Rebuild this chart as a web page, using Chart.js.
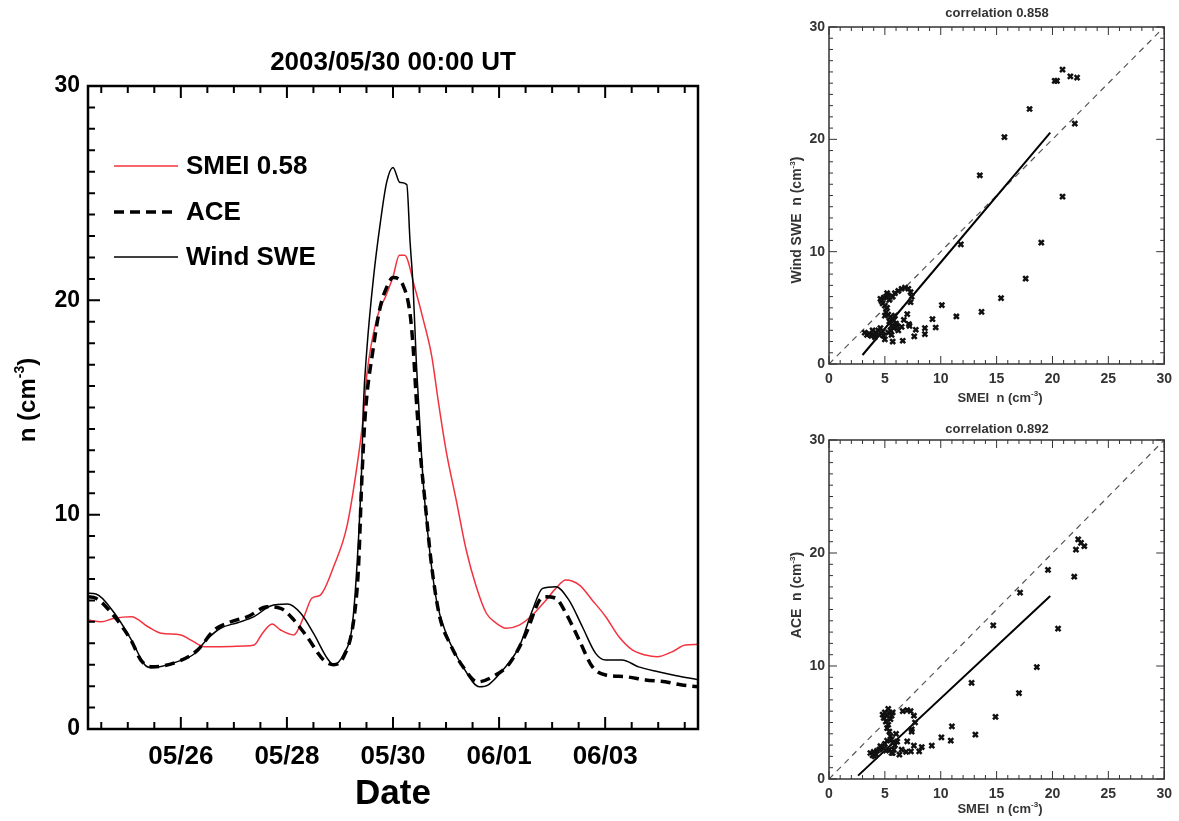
<!DOCTYPE html>
<html>
<head>
<meta charset="utf-8">
<title>SMEI density comparison 2003/05/30</title>
<script src="https://cdn.jsdelivr.net/npm/chart.js@4.4.1/dist/chart.umd.min.js"></script>
<style>
    html, body { margin: 0; padding: 0; background: #ffffff; }
    .box { position: absolute; }
</style>
</head>
<body>
<div class="box" style="left:0;top:0;width:720px;height:821px"><canvas id="timeChart" width="720" height="821"></canvas></div>
<div class="box" style="left:780px;top:0;width:399px;height:410px"><canvas id="windChart" width="399" height="410"></canvas></div>
<div class="box" style="left:780px;top:410px;width:399px;height:411px"><canvas id="aceChart" width="399" height="411"></canvas></div>
<script>
// ---- data: days relative to 2003/05/30 00:00 UT, density in cm^-3 ----
const smeiDays = [-5.75, -5.5, -5.25, -4.93, -4.62, -4.37, -4.0, -3.81, -3.56, -3.25, -2.81, -2.62, -2.46, -2.28, -2.12, -1.87, -1.68, -1.53, -1.37, -1.12, -0.87, -0.68, -0.56, -0.49, -0.31, -0.12, 0, 0.12, 0.22, 0.41, 0.57, 0.73, 0.85, 1.0, 1.19, 1.38, 1.57, 1.76, 1.95, 2.13, 2.38, 2.63, 2.88, 3.07, 3.26, 3.51, 3.76, 4.01, 4.26, 4.51, 4.76, 4.98, 5.26, 5.51, 5.75];
const smeiDens = [5.09, 5.0, 5.17, 5.24, 4.77, 4.47, 4.39, 4.15, 3.84, 3.84, 3.87, 3.92, 4.47, 4.9, 4.62, 4.39, 5.24, 6.1, 6.25, 7.57, 9.44, 12.24, 14.57, 16.6, 19.1, 20.3, 21.1, 22.1, 22.1, 20.6, 19.1, 17.4, 15.35, 13.0, 10.7, 8.35, 6.64, 5.4, 4.93, 4.7, 4.85, 5.32, 6.0, 6.56, 6.95, 6.72, 6.0, 5.24, 4.3, 3.69, 3.45, 3.37, 3.6, 3.92, 3.95];

const aceDays = [-5.75, -5.6, -5.25, -4.93, -4.75, -4.53, -4.0, -3.68, -3.37, -3.06, -2.74, -2.37, -2.12, -1.87, -1.62, -1.31, -1.12, -0.93, -0.74, -0.65, -0.59, -0.525, -0.37, -0.24, -0.12, 0, 0.19, 0.32, 0.38, 0.44, 0.51, 0.6, 0.73, 0.88, 1.07, 1.32, 1.6, 1.88, 2.2, 2.51, 2.76, 2.88, 3.07, 3.26, 3.51, 3.76, 4.01, 4.38, 4.76, 5.13, 5.45, 5.75];
const aceDens = [6.17, 6.1, 5.24, 4.1, 3.2, 2.9, 3.2, 3.69, 4.62, 5.0, 5.24, 5.7, 5.63, 5.09, 4.3, 3.22, 3.0, 3.37, 5.09, 7.57, 11.5, 14.6, 17.8, 19.7, 20.6, 21.06, 20.7, 19.4, 17.8, 15.35, 13.0, 10.7, 7.57, 5.24, 4.0, 2.9, 2.2, 2.44, 3.07, 4.47, 6.0, 6.17, 6.1, 5.4, 4.15, 2.9, 2.52, 2.44, 2.29, 2.2, 2.05, 1.97];

const windDays = [-5.75, -5.6, -5.25, -4.93, -4.68, -4.56, -4.0, -3.75, -3.5, -3.25, -2.93, -2.62, -2.31, -1.99, -1.74, -1.5, -1.24, -1.12, -0.93, -0.77, -0.68, -0.59, -0.56, -0.49, -0.37, -0.24, -0.12, 0, 0.13, 0.26, 0.32, 0.38, 0.44, 0.49, 0.57, 0.69, 0.82, 1.0, 1.32, 1.63, 1.79, 2.07, 2.38, 2.63, 2.82, 3.07, 3.32, 3.57, 3.82, 4.01, 4.32, 4.63, 5.0, 5.32, 5.75];
const windDens = [6.33, 6.3, 5.4, 4.15, 3.0, 2.86, 3.2, 3.5, 4.2, 4.7, 4.96, 5.24, 5.74, 5.83, 5.4, 4.47, 3.3, 3.0, 3.5, 4.8, 7.6, 12.2, 15.0, 17.8, 21.0, 23.6, 25.5, 26.2, 25.5, 25.4, 22.8, 20.6, 17.1, 14.9, 11.5, 8.35, 6.0, 4.47, 2.9, 1.97, 2.05, 2.75, 3.84, 5.55, 6.56, 6.64, 6.0, 4.77, 3.53, 3.22, 3.22, 2.9, 2.67, 2.5, 2.3];

const seriesNames = ['SMEI 0.58', 'ACE', 'Wind SWE'];
const dateTickDays = [-4, -2, 0, 2, 4];
const dateTickLabels = ['05/26', '05/28', '05/30', '06/01', '06/03'];
const densTicks = [0, 10, 20, 30];
const smeiTicks = [0, 5, 10, 15, 20, 25, 30];

// scatter: SMEI vs Wind SWE
const windSmei = [20.9, 20.2, 20.4, 21.6, 22.2, 17.95, 22.0, 15.7, 13.5, 20.9, 11.8, 19.0, 17.6, 15.4, 10.1, 13.65, 11.4, 9.26, 9.55, 8.58, 7.77, 8.58, 7.63, 6.6, 5.7, 7.0, 6.7, 7.15,
    4.6, 4.7, 4.8, 4.9, 5.0, 5.1, 5.2, 5.3, 5.4, 5.2, 5.1, 5.0, 5.3, 5.5, 5.4, 5.6, 5.5, 5.3, 5.6, 5.8, 5.9, 6.0, 5.8, 5.7, 5.9, 6.2, 6.5, 6.8, 7.1, 7.3, 7.4, 7.3,
    3.2, 3.4, 3.6, 3.8, 4.0, 4.2, 4.4, 4.1, 3.9, 4.6, 4.8, 4.9, 5.0, 4.5, 6.2, 6.5, 6.1, 7.2];
const windSwe = [26.2, 25.2, 25.2, 25.6, 25.5, 22.7, 21.4, 20.2, 16.8, 14.9, 10.65, 10.8, 7.6, 5.86, 5.24, 4.64, 4.23, 4.0, 3.25, 3.2, 3.05, 2.66, 2.46, 2.07, 2.0, 4.44, 3.93, 3.55,
    5.8, 5.6, 5.4, 5.9, 5.2, 6.0, 6.3, 6.1, 5.7, 5.0, 4.6, 4.3, 4.4, 4.2, 3.8, 3.4, 3.0, 2.8, 2.6, 3.9, 4.3, 3.6, 3.2, 6.0, 6.3, 6.5, 6.7, 6.8, 6.7, 6.4, 6.0, 5.5,
    2.8, 2.6, 2.7, 2.5, 2.6, 2.8, 3.0, 2.4, 3.0, 3.2, 2.9, 2.5, 2.2, 2.6, 3.0, 3.3, 3.4, 3.4];
const windFitX = [3.0, 19.8];
const windFitY = [0.8, 20.6];

// scatter: SMEI vs ACE
const aceSmei = [22.3, 22.55, 22.85, 22.1, 21.95, 19.6, 17.1, 14.7, 20.5, 18.6, 12.76, 17.0, 14.9, 11.0, 13.1, 10.06, 10.9, 9.2, 8.3, 8.07, 7.33, 7.6, 7.0, 7.4, 6.3, 5.7,
    4.8, 4.9, 5.0, 5.1, 5.2, 5.3, 5.4, 5.5, 5.6, 5.7, 5.3, 5.2, 5.4, 5.5, 5.6, 5.7, 5.9, 5.2, 5.0, 4.9, 5.1, 5.4, 5.6, 5.8, 6.1, 6.0, 6.6, 7.0, 7.3, 7.6, 7.7, 7.4,
    3.7, 3.9, 4.0, 4.2, 4.3, 4.5, 4.1, 4.6, 6.5, 6.9];
const aceAce = [21.2, 20.9, 20.6, 20.3, 17.9, 18.5, 16.5, 13.6, 13.3, 9.9, 8.5, 7.6, 5.5, 4.66, 3.92, 3.69, 3.39, 2.95, 2.83, 2.45, 2.45, 2.95, 3.33, 4.2, 2.15, 2.3,
    5.7, 5.4, 5.9, 5.1, 5.6, 6.2, 5.8, 5.3, 5.6, 5.9, 4.8, 4.5, 4.2, 3.8, 3.5, 3.2, 3.0, 3.4, 3.1, 2.7, 2.5, 2.6, 2.3, 2.6, 3.3, 4.0, 6.0, 6.1, 6.0, 5.6, 5.0, 4.4,
    2.3, 2.1, 2.4, 2.2, 2.5, 2.6, 2.0, 2.9, 2.6, 2.4];
const aceFitX = [2.6, 19.8];
const aceFitY = [0.3, 16.2];

const diagonal = [0, 30];

const FONT = '"Liberation Sans", Arial, sans-serif';
const toPoints = (xs, ys) => xs.map((v, i) => ({ x: v, y: ys[i] }));
const fixedTicks = values => scale => { scale.ticks = values.map(v => ({ value: v })); };

// text with an optional superscript part, centred on (x, baseline y); rotated reads upward
function drawRichText(ctx, parts, x, y, size, rotate, color) {
    const fontFor = sup => 'bold ' + (sup ? Math.round(size * 0.6) : size) + 'px ' + FONT;
    ctx.save();
    ctx.translate(x, y);
    if (rotate) ctx.rotate(-Math.PI / 2);
    ctx.fillStyle = color;
    ctx.textBaseline = 'alphabetic';
    ctx.textAlign = 'left';
    let w = 0;
    parts.forEach(p => { ctx.font = fontFor(p[1]); w += ctx.measureText(p[0]).width; });
    let cx = -w / 2;
    parts.forEach(p => {
        ctx.font = fontFor(p[1]);
        ctx.fillText(p[0], cx, p[1] ? -size * 0.45 : 0);
        cx += ctx.measureText(p[0]).width;
    });
    ctx.restore();
}

// inward tick marks and a closed frame, IDL style
const boxTicks = {
    id: 'boxTicks',
    afterDatasetsDraw(chart, args, o) {
        const { ctx, chartArea: a, scales: { x, y } } = chart;
        const isMajor = (v, m) => Math.abs(v / m - Math.round(v / m)) < 1e-6;
        ctx.save();
        ctx.strokeStyle = o.color;
        ctx.lineWidth = o.tickWidth;
        ctx.beginPath();
        for (let i = Math.ceil(x.min / o.xStep); i * o.xStep <= x.max + 1e-9; i++) {
            const v = i * o.xStep;
            const px = x.getPixelForValue(v);
            const len = isMajor(v, o.xMajor) ? o.major : o.minor;
            ctx.moveTo(px, a.bottom); ctx.lineTo(px, a.bottom - len);
            if (o.top) { ctx.moveTo(px, a.top); ctx.lineTo(px, a.top + len); }
        }
        for (let i = Math.ceil(y.min / o.yStep); i * o.yStep <= y.max + 1e-9; i++) {
            const v = i * o.yStep;
            const py = y.getPixelForValue(v);
            const len = isMajor(v, o.yMajor) ? o.major : o.minor;
            ctx.moveTo(a.left, py); ctx.lineTo(a.left + len, py);
            if (o.right) { ctx.moveTo(a.right, py); ctx.lineTo(a.right - len, py); }
        }
        ctx.stroke();
        ctx.lineWidth = o.border;
        ctx.strokeRect(a.left, a.top, a.right - a.left, a.bottom - a.top);
        ctx.restore();
    }
};

// free text: titles and axis names
const textItems = {
    id: 'textItems',
    afterDraw(chart, args, o) {
        o.items.forEach(t => drawRichText(chart.ctx, t.parts, t.x, t.y, t.size, t.rotate, t.color || o.color));
    }
};

// legend inside the plot area
const insideLegend = {
    id: 'insideLegend',
    afterDraw(chart, args, o) {
        const ctx = chart.ctx;
        ctx.save();
        chart.data.datasets.forEach((ds, i) => {
            const yy = o.rows[i];
            ctx.strokeStyle = ds.borderColor;
            ctx.lineWidth = ds.borderWidth;
            ctx.setLineDash(ds.borderDash || []);
            ctx.beginPath();
            ctx.moveTo(o.x0, yy);
            ctx.lineTo(o.x1, yy);
            ctx.stroke();
            ctx.setLineDash([]);
            ctx.fillStyle = '#000';
            ctx.font = 'bold ' + o.size + 'px ' + FONT;
            ctx.textBaseline = 'middle';
            ctx.fillText(ds.label, o.textX, yy + 1);
        });
        ctx.restore();
    }
};

Chart.defaults.font.family = FONT;
Chart.defaults.animation = false;

// ---- time series ----
new Chart(document.getElementById('timeChart'), {
    type: 'line',
    data: {
        datasets: [
            { label: seriesNames[0], data: toPoints(smeiDays, smeiDens), borderColor: '#f2333f', borderWidth: 1.5, order: 3 },
            { label: seriesNames[1], data: toPoints(aceDays, aceDens), borderColor: '#000000', borderWidth: 3.5, borderDash: [10, 6], order: 2 },
            { label: seriesNames[2], data: toPoints(windDays, windDens), borderColor: '#000000', borderWidth: 1.5, order: 1 }
        ]
    },
    options: {
        responsive: false,
        devicePixelRatio: 1,
        elements: { point: { radius: 0 }, line: { cubicInterpolationMode: 'monotone' } },
        layout: { padding: { top: 86, right: 22, left: 0, bottom: 0 } },
        scales: {
            x: {
                type: 'linear', min: -5.75, max: 5.75,
                grid: { display: false, drawTicks: false }, border: { display: false },
                afterBuildTicks: fixedTicks(dateTickDays),
                ticks: {
                    autoSkip: false, maxRotation: 0, padding: 12,
                    color: '#000', font: { size: 26, weight: 'bold' },
                    callback: v => { const i = dateTickDays.indexOf(v); return i >= 0 ? dateTickLabels[i] : ''; }
                },
                afterFit: s => { s.height = 92; }
            },
            y: {
                min: 0, max: 30,
                grid: { display: false, drawTicks: false }, border: { display: false },
                afterBuildTicks: fixedTicks(densTicks),
                ticks: { padding: 8, color: '#000', font: { size: 23, weight: 'bold' } },
                afterFit: s => { s.width = 88; }
            }
        },
        plugins: {
            legend: { display: false },
            tooltip: { enabled: false },
            boxTicks: { color: '#000', tickWidth: 2, border: 2.5, xStep: 0.5, xMajor: 2, yStep: 1, yMajor: 10, major: 12, minor: 7, top: true, right: false },
            insideLegend: { x0: 114, x1: 178, textX: 186, rows: [166, 212, 257], size: 26 },
            textItems: {
                color: '#000',
                items: [
                    { parts: [['2003/05/30 00:00 UT', 0]], x: 393, y: 70, size: 26 },
                    { parts: [['Date', 0]], x: 393, y: 804, size: 35 },
                    { parts: [['n (cm', 0], ['-3', 1], [')', 0]], x: 35, y: 400, size: 24, rotate: true }
                ]
            }
        }
    },
    plugins: [boxTicks, insideLegend, textItems]
});

// ---- scatter plots ----
function scatterChart(id, xs, ys, fitX, fitY, cfg) {
    return new Chart(document.getElementById(id), {
        type: 'scatter',
        data: {
            datasets: [
                { data: toPoints(xs, ys), pointStyle: 'crossRot', pointRadius: 3.5, borderWidth: 2.5, borderColor: '#111', backgroundColor: '#111', order: 1 },
                { data: toPoints(fitX, fitY), showLine: true, pointRadius: 0, borderWidth: 2, borderColor: '#000', order: 2 },
                { data: toPoints(diagonal, diagonal), showLine: true, pointRadius: 0, borderWidth: 1.2, borderColor: '#555', borderDash: [6, 5], order: 3 }
            ]
        },
        options: {
            responsive: false,
            devicePixelRatio: 1,
            layout: { padding: { top: cfg.top, right: 13, left: 0, bottom: 0 } },
            scales: {
                x: {
                    type: 'linear', min: 0, max: 30,
                    grid: { display: false, drawTicks: false }, border: { display: false },
                    afterBuildTicks: fixedTicks(smeiTicks),
                    ticks: { padding: 7, maxRotation: 0, color: '#333', font: { size: 14, weight: 'bold' } },
                    afterFit: s => { s.height = cfg.xh; }
                },
                y: {
                    min: 0, max: 30,
                    grid: { display: false, drawTicks: false }, border: { display: false },
                    afterBuildTicks: fixedTicks(densTicks),
                    ticks: { padding: 4, color: '#333', font: { size: 14, weight: 'bold' } },
                    afterFit: s => { s.width = 49; }
                }
            },
            plugins: {
                legend: { display: false },
                tooltip: { enabled: false },
                boxTicks: { color: '#333', tickWidth: 1, border: 1.5, xStep: 1, xMajor: 5, yStep: 1, yMajor: 10, major: 8, minor: 4, top: true, right: true },
                textItems: {
                    color: '#333',
                    items: [
                        { parts: [[cfg.title, 0]], x: 217, y: cfg.titleY, size: 13 },
                        { parts: [['SMEI  n (cm', 0], ['-3', 1], [')', 0]], x: 220, y: cfg.xTitleY, size: 13 },
                        { parts: [[cfg.yName + '  n (cm', 0], ['-3', 1], [')', 0]], x: 21, y: cfg.yTitleY, size: 14, rotate: true }
                    ]
                }
            }
        },
        plugins: [boxTicks, textItems]
    });
}

scatterChart('windChart', windSmei, windSwe, windFitX, windFitY,
    { title: 'correlation 0.858', yName: 'Wind SWE', top: 27, xh: 46, titleY: 17, xTitleY: 402, yTitleY: 220 });
scatterChart('aceChart', aceSmei, aceAce, aceFitX, aceFitY,
    { title: 'correlation 0.892', yName: 'ACE', top: 30, xh: 42, titleY: 23, xTitleY: 403, yTitleY: 185 });
</script>
</body>
</html>
